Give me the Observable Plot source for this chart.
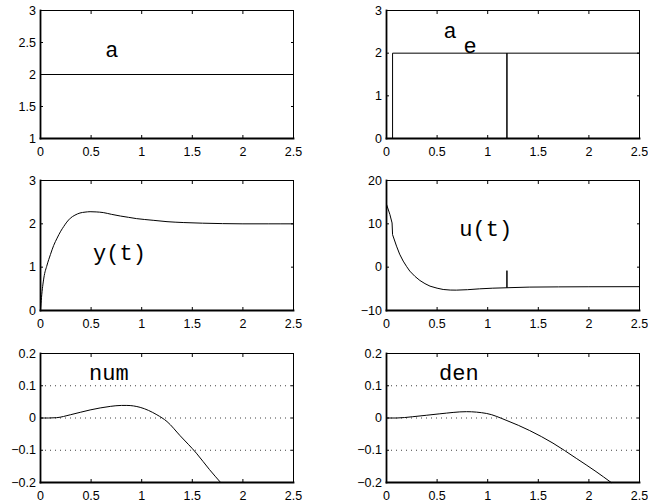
<!DOCTYPE html>
<html>
<head>
<meta charset="utf-8">
<script src="https://cdn.jsdelivr.net/npm/d3@7"></script>
<script src="https://cdn.jsdelivr.net/npm/@observablehq/plot@0.6"></script>
<style>
  html, body { margin: 0; padding: 0; background: #fff; }
  #fig { position: relative; width: 648px; height: 504px; background: #fff; overflow: hidden; }
  #fig svg { position: absolute; }
</style>
</head>
<body>
<div id="fig"></div>
<script>
// ---- shared axis ticks ----
const xTicks = [0, 0.5, 1, 1.5, 2, 2.5];
const yTicksA = [1, 1.5, 2, 2.5, 3];
const yTicksAe = [0, 1, 2, 3];
const yTicksY = [0, 1, 2, 3];
const yTicksU = [-10, 0, 10, 20];
const yTicksND = [-0.2, -0.1, 0, 0.1, 0.2];

// ---- panel 1: a ----
const tA = [0, 2.5];
const vA = [2, 2];

// ---- panel 2: a_e ----
const tAe = [0, 0.06, 0.06, 1.19, 1.19, 1.19, 2.5];
const vAe = [0, 0, 2, 2, 0, 2, 2];

// ---- panel 3: y(t) ----
const tY = [0, 0.01, 0.033, 0.065, 0.098, 0.13, 0.164, 0.2, 0.23, 0.26, 0.295, 0.34, 0.39, 0.44, 0.49, 0.55, 0.62, 0.7, 0.79, 0.87, 0.95, 1.03, 1.12, 1.25, 1.41, 1.6, 1.8, 2.0, 2.25, 2.5];
const vY = [0, 0.3, 0.75, 1.05, 1.29, 1.5, 1.67, 1.83, 1.94, 2.04, 2.13, 2.2, 2.25, 2.27, 2.28, 2.275, 2.26, 2.22, 2.18, 2.15, 2.12, 2.1, 2.08, 2.05, 2.03, 2.015, 2.005, 2.0, 2.0, 2.0];

// ---- panel 4: u(t) ----
const tU = [0, 0.033, 0.055, 0.06, 0.099, 0.13, 0.165, 0.2, 0.23, 0.28, 0.33, 0.38, 0.43, 0.5, 0.56, 0.63, 0.69, 0.8, 0.92, 1.05, 1.19, 1.19, 1.19, 1.41, 1.7, 2.0, 2.5];
const vU = [14.5, 12.2, 10.2, 7.5, 4.85, 3.0, 1.4, 0.1, -0.9, -2.1, -3.07, -3.8, -4.38, -4.85, -5.15, -5.28, -5.3, -5.2, -5.0, -4.85, -4.75, -0.8, -4.75, -4.6, -4.55, -4.52, -4.5];

// ---- panel 5: num ----
const tN = [0, 0.08, 0.16, 0.295, 0.49, 0.69, 0.8, 0.853, 0.985, 1.15, 1.25, 1.38, 1.54, 1.67, 1.78];
const vN = [0, 0, 0.001, 0.010, 0.025, 0.036, 0.039, 0.039, 0.033, 0.010, -0.011, -0.055, -0.109, -0.160, -0.2];

// ---- panel 6: den ----
const tD = [0, 0.1, 0.26, 0.527, 0.79, 0.99, 1.19, 1.415, 1.645, 1.875, 2.07, 2.22];
const vD = [0, 0, 0.004, 0.013, 0.0196, 0.014, -0.008, -0.039, -0.078, -0.125, -0.166, -0.2];

// ---- annotation labels (data coordinates) ----
const labelsA = [{x: 0.64, y: 2.38, s: "a"}];
const labelsAe = [{x: 0.563, y: 2.52, s: "a"}, {x: 0.76, y: 2.18, s: "e"}];
const labelsY = [{x: 0.52, y: 1.32, s: "y(t)"}];
const labelsU = [{x: 0.72, y: 8.9, s: "u(t)"}];
const labelsN = [{x: 0.48, y: 0.139, s: "num"}];
const labelsD = [{x: 0.52, y: 0.139, s: "den"}];

const fmt = d => (d < 0 ? "\u2212" + String(Math.abs(d)) : String(d));
const zip = (t, v) => t.map((x, i) => ({x, y: v[i]}));

const fig = document.getElementById("fig");

function panel({col, top, frameH, yDomain, yTicks, t, v, labels, grid, curve}) {
  const mL = col === 0 ? 40 : 62;
  const mR = col === 0 ? 31 : 9;
  const mT = 10, mB = 26;
  const marks = [];
  if (grid) marks.push(Plot.gridY(yTicks, {stroke: "#000", strokeOpacity: 0.75, strokeDasharray: "1,4"}));
  marks.push(Plot.line(zip(t, v), {x: "x", y: "y", stroke: "#000", strokeWidth: 1, curve: curve || "linear"}));
  marks.push(Plot.frame({stroke: "#000", strokeWidth: 1}));
  marks.push(Plot.frame({anchor: "left", stroke: "#000", strokeWidth: 1.8}));
  marks.push(Plot.frame({anchor: "bottom", stroke: "#000", strokeWidth: 1.8}));
  marks.push(Plot.axisX(xTicks, {anchor: "bottom", tickSize: -3, tickPadding: 12, tickFormat: fmt, label: null, fontSize: 12.5}));
  marks.push(Plot.axisX(xTicks, {anchor: "top", tickSize: -3, tickFormat: () => "", label: null}));
  marks.push(Plot.axisY(yTicks, {anchor: "left", tickSize: -3, tickPadding: 7.5, tickFormat: fmt, label: null, fontSize: 12.5}));
  marks.push(Plot.axisY(yTicks, {anchor: "right", tickSize: -3, tickFormat: () => "", label: null}));
  marks.push(Plot.text(labels, {x: "x", y: "y", text: "s", textAnchor: "start", lineAnchor: "middle",
    fontFamily: "'Liberation Mono', 'Courier New', monospace", fontSize: 22, fill: "#000"}));
  const svg = Plot.plot({
    width: 324,
    height: frameH + mT + mB,
    marginLeft: mL, marginRight: mR, marginTop: mT, marginBottom: mB,
    x: {domain: [0, 2.5]},
    y: {domain: yDomain},
    style: {fontFamily: "'Liberation Sans', Arial, Helvetica, sans-serif", fontSize: "12.5px", color: "#000", background: "transparent", overflow: "visible"},
    marks
  });
  svg.style.left = (col === 0 ? 0 : 324) + "px";
  svg.style.top = (top - mT) + "px";
  fig.appendChild(svg);
}

panel({col: 0, top: 10, frameH: 128, yDomain: [1, 3], yTicks: yTicksA, t: tA, v: vA, labels: labelsA});
panel({col: 1, top: 10, frameH: 128, yDomain: [0, 3], yTicks: yTicksAe, t: tAe, v: vAe, labels: labelsAe});
panel({col: 0, top: 180, frameH: 130, yDomain: [0, 3], yTicks: yTicksY, t: tY, v: vY, labels: labelsY, curve: "monotone-x"});
panel({col: 1, top: 180, frameH: 130, yDomain: [-10, 20], yTicks: yTicksU, t: tU, v: vU, labels: labelsU});
panel({col: 0, top: 353, frameH: 129, yDomain: [-0.2, 0.2], yTicks: yTicksND, t: tN, v: vN, labels: labelsN, grid: true, curve: "monotone-x"});
panel({col: 1, top: 353, frameH: 129, yDomain: [-0.2, 0.2], yTicks: yTicksND, t: tD, v: vD, labels: labelsD, grid: true, curve: "monotone-x"});
</script>
</body>
</html>
